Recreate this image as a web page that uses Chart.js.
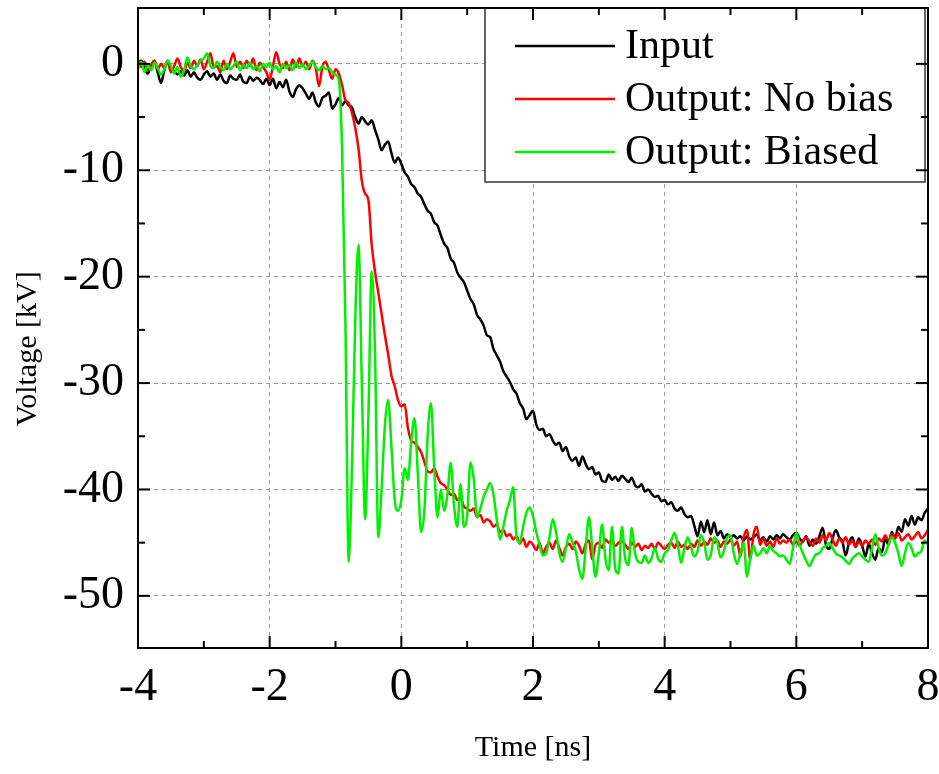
<!DOCTYPE html>
<html>
<head>
<meta charset="utf-8">
<title>Voltage vs time</title>
<script src="https://cdn.jsdelivr.net/npm/chart.js@4.4.1/dist/chart.umd.min.js"></script>
<style>
  html, body { margin: 0; padding: 0; background: #fff; }
  #wrap { width: 939px; height: 774px; }
</style>
</head>
<body>
<div id="wrap"><canvas id="plot" width="939" height="774"></canvas></div>
<script>
// ===== 資料 (kV, 每 0.05 ns 一點, -4 ~ 8 ns) =====
const seriesNames = ["Input", "Output: No bias", "Output: Biased"];
const xTitle = "Time [ns]";
const yTitle = "Voltage [kV]";
const xTicks = [-4, -2, 0, 2, 4, 6, 8];
const xMinorTicks = [-3, -1, 1, 3, 5, 7];
const yTicks = [0, -10, -20, -30, -40, -50];
const yMinorTicks = [-5, -15, -25, -35, -45];

// 取樣時間格點
const time = [];
for (let i = 0; i <= 240; i++) time.push(Math.round((-4 + i * 0.05) * 100) / 100);

const inputKV = [
  0.2, 0.3, -0.5, -0.9, -0.1, 0.3, -0.8, -1.8, -0.6, 0.3, -0.4, -0.7, -1.0, -0.7, -1.1, -0.6, -1.2, -0.8, -1.3, -1.5,
  -1.0, -0.7, -1.2, -0.9, -1.5, -1.0, -1.6, -1.8, -1.1, -1.4, -1.5, -1.0, -1.7, -1.8, -1.2, -1.6, -1.3, -1.5, -1.9, -1.4,
  -2.0, -1.4, -2.3, -1.7, -2.2, -1.5, -2.6, -3.1, -2.4, -2.0, -2.3, -2.8, -3.3, -2.7, -3.6, -4.0, -3.2, -3.0, -2.7, -4.2,
  -3.8, -3.2, -3.9, -3.5, -3.9, -4.1, -5.0, -5.6, -5.0, -5.4, -5.7, -5.3, -6.2, -7.1, -8.1, -7.6, -7.3, -8.4, -9.3, -8.8,
  -9.4, -10.2, -10.6, -11.3, -11.6, -12.2, -12.5, -13.2, -13.8, -14.1, -14.9, -15.2, -16.1, -16.9, -17.3, -18.3, -18.7, -19.6, -20.1, -20.5,
  -21.3, -22.1, -22.6, -23.6, -24.0, -24.6, -25.5, -25.7, -26.8, -27.4, -28.0, -28.9, -29.4, -29.9, -30.6, -31.0, -31.9, -32.4, -33.4, -33.0,
  -32.6, -33.9, -34.4, -34.3, -35.0, -34.8, -35.4, -35.8, -35.6, -36.4, -36.0, -36.9, -37.3, -37.0, -37.8, -36.9, -37.6, -38.1, -37.9, -38.6,
  -38.4, -39.2, -39.3, -38.6, -39.1, -38.8, -39.2, -38.7, -39.0, -39.3, -38.9, -39.6, -39.8, -39.5, -40.2, -40.0, -40.4, -40.7, -40.6, -41.1,
  -41.0, -41.4, -41.2, -41.8, -42.0, -41.7, -42.3, -42.6, -42.5, -43.4, -44.4, -43.0, -44.0, -42.9, -44.2, -43.1, -44.3, -43.9, -44.6, -44.2,
  -44.5, -44.3, -44.6, -44.4, -44.8, -44.4, -44.7, -44.5, -44.2, -44.8, -44.5, -44.9, -44.4, -44.7, -44.3, -44.6, -44.2, -44.5, -44.7, -44.3,
  -44.1, -44.6, -44.9, -44.4, -45.3, -44.7, -45.1, -44.4, -43.6, -45.2, -45.6, -44.6, -43.8, -44.5, -44.9, -46.2, -45.0, -44.5, -45.4, -44.6,
  -45.3, -46.3, -45.1, -46.0, -46.6, -45.5, -45.9, -44.6, -45.2, -44.0, -44.6, -43.5, -44.0, -42.8, -43.4, -42.5, -43.3, -42.6, -42.9, -42.2,
  -41.8
];

const noBiasKV = [
  0.4, -0.3, 0.2, -0.6, -0.1, 0.3, -0.5, 0.0, -0.4, 0.2, -0.8, -0.2, 0.5, -0.3, -0.7, 0.1, -0.4, 0.3, -0.2, 0.4,
  -0.5, 0.2, 1.0, -0.3, -0.2, -0.8, 0.3, -0.5, 0.2, 1.0, -0.3, 0.2, -0.4, 0.3, -0.2, 0.5, -0.6, 0.1, -0.3, -0.8,
  -1.5, -0.2, 1.1, 0.0, -0.4, 0.2, -0.6, 0.4, -0.3, 0.5, -0.2, 0.2, -0.5, 0.3, -0.4, -2.1, -0.3, 0.2, -0.6, -1.4,
  -0.5, -0.9, -2.0, -3.4, -3.7, -4.6, -6.0, -8.0, -11.0, -12.2, -12.8, -17.0, -19.5, -21.5, -23.5, -25.5, -27.3, -29.3, -30.3, -31.6,
  -32.2, -32.0, -34.2, -35.4, -35.6, -36.0, -36.5, -37.4, -38.3, -38.4, -38.0, -38.8, -39.4, -39.6, -40.0, -40.5, -40.4, -41.0, -40.8, -41.6,
  -41.8, -42.0, -41.8, -42.6, -42.4, -43.1, -42.8, -43.0, -43.5, -43.3, -44.0, -43.8, -44.4, -44.2, -44.7, -44.4, -45.1, -44.6, -45.4, -44.9,
  -45.2, -45.7, -45.0, -46.0, -45.4, -45.0, -45.6, -44.8, -45.5, -46.2, -45.4, -45.1, -45.6, -44.9, -45.3, -46.0, -45.1, -44.8, -46.6, -45.2,
  -45.0, -45.5, -44.7, -45.0, -44.8, -45.3, -45.0, -44.9, -45.2, -45.6, -45.0, -45.4, -45.1, -45.7, -45.3, -45.5, -45.1, -45.6, -45.0, -45.3,
  -45.6, -45.2, -45.0, -45.5, -44.9, -45.4, -45.2, -45.6, -45.1, -45.4, -44.8, -45.3, -44.9, -45.2, -44.6, -45.0, -44.8, -45.4, -44.9, -45.1,
  -44.7, -45.3, -44.9, -46.3, -44.5, -43.8, -46.6, -44.2, -43.5, -45.2, -44.6, -45.3, -44.9, -45.4, -44.6, -45.1, -44.8, -45.0, -44.7, -45.2,
  -44.9, -45.3, -44.8, -44.5, -44.9, -45.3, -44.6, -45.0, -44.3, -44.8, -44.1, -44.7, -45.3, -44.6, -45.0, -44.5, -45.2, -44.8, -45.4, -44.9,
  -45.3, -44.8, -45.1, -44.7, -45.2, -44.6, -44.9, -44.3, -44.8, -44.2, -44.6, -44.1, -44.8, -44.5, -44.2, -44.7, -44.4, -44.0, -44.6, -44.3,
  -43.8
];

const biasedKV = [
  -0.5, 0.2, -0.8, -0.1, -0.6, 0.1, -0.4, -1.0, -0.5, 0.3, -0.2, -0.9, -0.3, -1.2, -0.6, 0.6, -0.2, -0.5, -0.1, 0.3,
  0.5, 1.0, -0.2, -0.4, 0.2, -0.3, -0.6, 0.0, -0.5, -0.2, 0.2, -0.6, -0.1, -0.4, 0.1, -0.5, -0.2, -0.7, 0.0, -0.3,
  0.1, -0.5, -0.2, -0.8, 0.0, -0.4, -0.1, -0.6, 0.1, -0.4, 0.0, -0.5, -0.2, 0.2, -0.3, -0.6, -0.2, -0.5, -0.4, -0.8,
  -1.0, -1.5, -8.0, -24.0, -46.8, -38.0, -24.0, -17.0, -30.0, -42.8, -33.0, -19.5, -27.0, -44.5, -40.0, -34.0, -31.6, -36.0, -41.0, -42.0,
  -41.0, -38.0, -39.1, -35.5, -33.3, -38.5, -44.0, -42.0, -35.0, -31.9, -38.0, -42.6, -40.0, -42.0, -40.5, -37.5, -41.5, -43.5, -39.5, -43.5,
  -42.5, -37.5, -39.0, -42.6, -41.8, -40.7, -40.0, -39.4, -40.5, -42.8, -44.7, -43.5, -42.0, -41.0, -39.8, -44.5, -45.0, -43.5, -42.2, -41.7,
  -42.5, -44.0, -45.2, -46.2, -46.0, -44.5, -42.8, -44.0, -46.0, -46.8, -45.5, -44.2, -45.0, -45.8, -47.5, -48.4, -45.5, -42.6, -45.5, -48.2,
  -46.0, -43.3, -46.5, -47.6, -43.5, -47.5, -47.9, -43.5, -46.5, -47.1, -43.6, -46.0, -46.8, -46.9, -46.2, -46.9, -46.5, -45.5, -46.5, -46.8,
  -46.0, -45.7, -44.8, -44.1, -45.2, -46.9, -45.5, -44.5, -45.4, -46.3, -45.8, -44.3, -45.0, -46.6, -46.2, -44.5, -45.0, -46.4, -45.8, -44.5,
  -44.3, -46.0, -47.0, -46.0, -45.0, -48.2, -46.5, -45.3, -46.2, -46.0, -45.5, -46.0, -45.3, -45.8, -46.0, -46.3, -46.2, -46.6, -47.0, -45.5,
  -44.1, -45.2, -46.0, -46.7, -47.2, -46.6, -46.1, -46.0, -45.5, -45.3, -45.0, -45.5, -46.0, -46.2, -46.4, -46.7, -47.0, -46.5, -46.2, -46.0,
  -46.3, -46.6, -46.8, -45.5, -44.2, -45.5, -46.2, -46.0, -45.2, -44.5, -45.0, -46.0, -47.2, -46.0, -45.0, -45.5, -46.3, -46.0, -45.8, -44.8,
  -45.2
];

const seriesColors = ["#000000", "#ff0000", "#00f000"];

[inputKV, noBiasKV, biasedKV].forEach((arr, i) => {
  if (arr.length !== time.length) console.error("length mismatch", seriesNames[i], arr.length);
});

function toPoints(values) {
  return time.map((t, i) => ({ x: t, y: values[i] }));
}

const SERIF = '"Liberation Serif", "Times New Roman", serif';

// ===== 外框、內向刻度、圖例、軸標題 =====
const framePlugin = {
  id: "frame",
  afterDatasetsDraw(chart) {
    const { ctx, chartArea: a, scales: { x, y } } = chart;
    ctx.save();

    // 圖例
    const boxL = a.right - 443, boxT = a.top, boxR = a.right - 3, boxB = a.top + 174;
    ctx.fillStyle = "#fff";
    ctx.fillRect(boxL, boxT, boxR - boxL, boxB - boxT);
    ctx.strokeStyle = "#333";
    ctx.lineWidth = 1.5;
    ctx.strokeRect(boxL, boxT, boxR - boxL, boxB - boxT);
    ctx.font = "42px " + SERIF;
    ctx.textBaseline = "middle";
    ctx.textAlign = "left";
    chart.data.datasets.forEach((ds, i) => {
      const ly = boxT + 38 + i * 53;
      ctx.strokeStyle = ds.borderColor;
      ctx.lineWidth = 2.5;
      ctx.beginPath();
      ctx.moveTo(boxL + 30, ly);
      ctx.lineTo(boxL + 130, ly);
      ctx.stroke();
      ctx.fillStyle = "#000";
      ctx.fillText(ds.label, boxL + 140, ly + 1);
    });

    // 外框
    ctx.strokeStyle = "#000";
    ctx.lineWidth = 2;
    ctx.strokeRect(a.left, a.top, a.right - a.left, a.bottom - a.top);

    // 刻度 (朝內)
    const tick = (x1, y1, x2, y2) => {
      ctx.beginPath(); ctx.moveTo(x1, y1); ctx.lineTo(x2, y2); ctx.stroke();
    };
    xTicks.concat(xMinorTicks).forEach(v => {
      const px = x.getPixelForValue(v);
      const len = xTicks.includes(v) ? 12 : 7;
      tick(px, a.bottom, px, a.bottom - len);
      tick(px, a.top, px, a.top + len);
    });
    yTicks.concat(yMinorTicks).forEach(v => {
      const py = y.getPixelForValue(v);
      const len = yTicks.includes(v) ? 12 : 7;
      tick(a.left, py, a.left + len, py);
      tick(a.right, py, a.right - len, py);
    });

    // 軸標題
    ctx.fillStyle = "#000";
    ctx.font = "30px " + SERIF;
    ctx.textAlign = "center";
    ctx.textBaseline = "middle";
    ctx.fillText(xTitle, (a.left + a.right) / 2, 748);
    ctx.translate(28, 349);
    ctx.rotate(-Math.PI / 2);
    ctx.fillText(yTitle, 0, 0);

    ctx.restore();
  }
};

const ctx = document.getElementById("plot").getContext("2d");
new Chart(ctx, {
  type: "line",
  data: {
    datasets: [inputKV, noBiasKV, biasedKV].map((vals, i) => ({
      label: seriesNames[i],
      data: toPoints(vals),
      borderColor: seriesColors[i],
      borderWidth: 2.5,
      pointRadius: 0,
      fill: false,
      cubicInterpolationMode: "monotone",
      order: 2 - i
    }))
  },
  options: {
    responsive: false,
    animation: false,
    devicePixelRatio: 1,
    layout: { padding: { top: 8, right: 11, left: 0, bottom: 0 } },
    plugins: { legend: { display: false }, tooltip: { enabled: false } },
    scales: {
      x: {
        type: "linear",
        min: -4,
        max: 8,
        afterBuildTicks: s => { s.ticks = xTicks.map(v => ({ value: v })); },
        afterFit: s => { s.height = 126; s.paddingLeft = 0; s.paddingRight = 0; },
        ticks: {
          color: "#000",
          padding: 12,
          maxRotation: 0,
          font: { family: SERIF, size: 46 },
          callback: v => String(v)
        },
        grid: { color: "#9a9a9a", lineWidth: 1, drawTicks: false },
        border: { display: false, dash: [4, 4] }
      },
      y: {
        type: "linear",
        min: -54.9,
        max: 5.25,
        afterBuildTicks: s => { s.ticks = yTicks.map(v => ({ value: v })); },
        afterFit: s => { s.width = 138; s.paddingTop = 0; s.paddingBottom = 0; },
        ticks: {
          color: "#000",
          padding: 14,
          font: { family: SERIF, size: 46 },
          callback: v => String(v)
        },
        grid: { color: "#9a9a9a", lineWidth: 1, drawTicks: false },
        border: { display: false, dash: [4, 4] }
      }
    }
  },
  plugins: [framePlugin]
});
</script>
</body>
</html>
